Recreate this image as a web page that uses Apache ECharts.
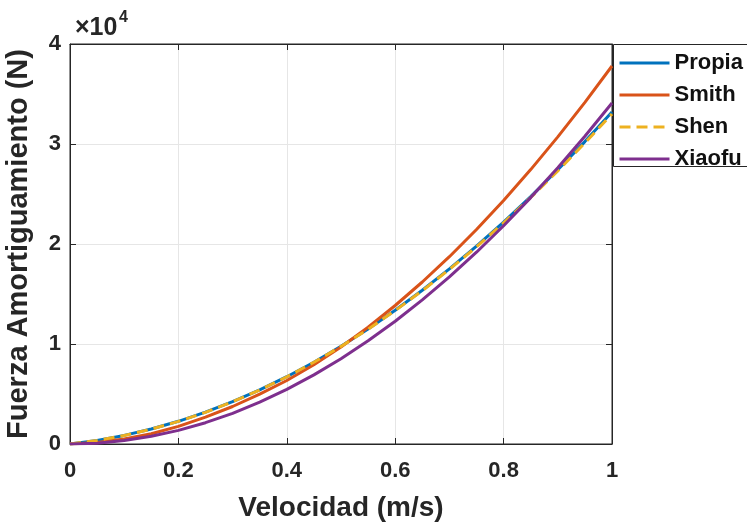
<!DOCTYPE html>
<html>
<head>
<meta charset="utf-8">
<script src="https://cdn.jsdelivr.net/npm/echarts@6/dist/echarts.min.js"></script>
<style>
html,body{margin:0;padding:0;background:#fff;}
#chart{width:747px;height:522px;}
</style>
</head>
<body>
<div id="chart"></div>
<script>
var velocidad = [0,0.05,0.1,0.15,0.2,0.25,0.3,0.35,0.4,0.45,0.5,0.55,0.6,0.65,0.7,0.75,0.8,0.85,0.9,0.95,1];
var propia = [0,360,860,1500,2270,3180,4230,5410,6730,8180,9780,11500,13370,15370,17510,19780,22190,24740,27420,30240,33200];
var smith  = [0,160,500,1030,1760,2680,3750,4990,6350,7930,9700,11680,13850,16200,18730,21450,24350,27440,30710,34160,37800];
var shen   = [0,350,850,1490,2260,3170,4220,5400,6720,8170,9760,11480,13340,15330,17460,19720,22120,24650,27310,30110,33000];
var xiaofu = [0,85,340,770,1360,2130,3070,4180,5460,6910,8530,10320,12280,14410,16710,19180,21820,24640,27620,30780,34100];
var seriesNames = ['Propia','Smith','Shen','Xiaofu'];
var xTicks = [0,0.2,0.4,0.6,0.8,1];
var yTicks = [0,1,2,3,4];

function pairs(ys){ return velocidad.map(function(v,i){ return [v, ys[i]]; }); }

var FONT = "'Liberation Sans', Arial, sans-serif";
var chart = echarts.init(document.getElementById('chart'));
var axisColor = '#262626';

chart.setOption({
  animation: false,
  backgroundColor: '#fff',
  grid: {left:70, right:135, top:44, bottom:78, show:true, borderColor:axisColor, borderWidth:1, backgroundColor:'#fff',
    containLabel:false, outerBoundsMode:'none'},
  xAxis: [{
    type:'value', min:0, max:1, interval:0.2,
    axisLine:{show:true, onZero:false, lineStyle:{color:axisColor, width:1}},
    axisTick:{show:true, inside:true, length:6, lineStyle:{color:axisColor}},
    axisLabel:{color:axisColor, fontFamily:FONT, fontWeight:'bold', fontSize:22, margin:16,
      formatter:function(v){ return xTicks.indexOf(Math.round(v*10)/10) >= 0 ? String(Math.round(v*10)/10) : ''; }},
    splitLine:{show:true, lineStyle:{color:'#e6e6e6', width:1}},
    name:'Velocidad (m/s)', nameLocation:'middle', nameGap:50,
    nameTextStyle:{color:'#262626', fontFamily:FONT, fontWeight:'bold', fontSize:28}
  },{
    type:'value', min:0, max:1, interval:0.2, position:'top',
    axisLine:{show:true, onZero:false, lineStyle:{color:axisColor, width:1}},
    axisTick:{show:true, inside:true, length:6, lineStyle:{color:axisColor}},
    axisLabel:{show:false}, splitLine:{show:false}
  }],
  yAxis: [{
    type:'value', min:0, max:40000, interval:10000,
    axisLine:{show:true, onZero:false, lineStyle:{color:axisColor, width:1}},
    axisTick:{show:true, inside:true, length:6, lineStyle:{color:axisColor}},
    axisLabel:{color:axisColor, fontFamily:FONT, fontWeight:'bold', fontSize:22, margin:9,
      formatter:function(v){ return String(yTicks[Math.round(v/10000)]); }},
    splitLine:{show:true, lineStyle:{color:'#e6e6e6', width:1}},
    name:'Fuerza Amortiguamiento (N)', nameLocation:'middle', nameGap:37,
    nameTextStyle:{color:'#262626', fontFamily:FONT, fontWeight:'bold', fontSize:29}
  },{
    type:'value', min:0, max:40000, interval:10000, position:'right',
    axisLine:{show:true, onZero:false, lineStyle:{color:axisColor, width:1}},
    axisTick:{show:true, inside:true, length:6, lineStyle:{color:axisColor}},
    axisLabel:{show:false}, splitLine:{show:false}
  }],
  legend: {
    left:618, top:52, orient:'vertical', padding:0, itemGap:10, z:20,
    itemWidth:50, itemHeight:14,
    itemStyle:{opacity:0},
    lineStyle:{width:3},
    textStyle:{color:'#111', fontFamily:FONT, fontWeight:'bold', fontSize:22, lineHeight:22},
    data: seriesNames
  },
  graphic: [
    {type:'rect', left:613, top:44, z:1, shape:{width:150, height:122},
      style:{fill:'#fff', stroke:axisColor, lineWidth:1}},
    {type:'text', left:75, top:16, z:10, style:{text:'×10', fill:'#262626', font:"bold 25px 'Liberation Sans', Arial, sans-serif"}},
    {type:'text', left:119, top:10, z:10, style:{text:'4', fill:'#262626', font:"bold 16px 'Liberation Sans', Arial, sans-serif"}}
  ],
  series: [
    {name:seriesNames[0], type:'line', data:pairs(propia), showSymbol:false, symbol:'none', lineStyle:{color:'#0072BD', width:3}, itemStyle:{color:'#0072BD'}},
    {name:seriesNames[1], type:'line', data:pairs(smith), showSymbol:false, symbol:'none', lineStyle:{color:'#D95319', width:3}, itemStyle:{color:'#D95319'}},
    {name:seriesNames[2], type:'line', data:pairs(shen), showSymbol:false, symbol:'none', lineStyle:{color:'#EDB120', width:3, type:[11,6]}, itemStyle:{color:'#EDB120'}},
    {name:seriesNames[3], type:'line', data:pairs(xiaofu), showSymbol:false, symbol:'none', lineStyle:{color:'#7E2F8E', width:3}, itemStyle:{color:'#7E2F8E'}}
  ]
});
</script>
</body>
</html>
